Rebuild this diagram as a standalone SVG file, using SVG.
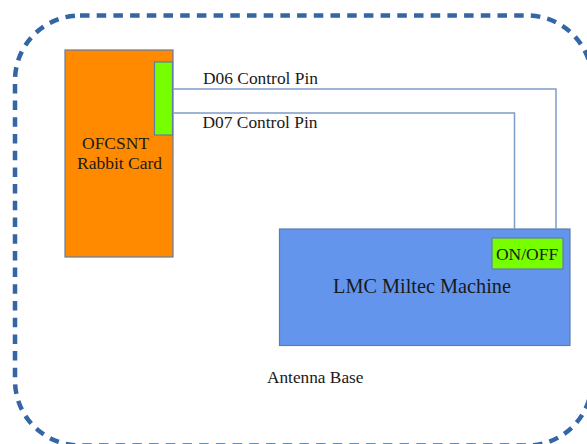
<svg xmlns="http://www.w3.org/2000/svg" width="587" height="444" viewBox="0 0 587 444">
<style>
text{font-family:"Liberation Serif","Times New Roman",serif;fill:#1a1a1a}
.wire{fill:none;stroke:#7f9cc9;stroke-width:1.5}
.box{stroke:#5f7ca8;stroke-width:1.2}
</style>
<rect x="15" y="15.5" width="577" height="430" rx="65" ry="65" fill="none" stroke="#3465a4" stroke-width="4.5" stroke-dasharray="9.5 7.2"/>
<g id="rabbit-card">
<rect class="box" x="65" y="50" width="108" height="207" fill="#ff8a00"/>
<text x="82" y="149" font-size="17.5">OFCSNT</text>
<text x="77" y="169" font-size="17.5">Rabbit Card</text>
</g>
<g id="pins">
<rect class="box" x="154.5" y="62" width="18" height="73" fill="#77ff00"/>
</g>
<g id="lmc">
<rect class="box" x="279.5" y="229" width="290.5" height="116.5" fill="#6495ed"/>
<text x="422" y="292.5" font-size="20.3" text-anchor="middle">LMC Miltec Machine</text>
</g>
<g id="onoff">
<rect class="box" x="492" y="238" width="71" height="31" fill="#77ff00"/>
<text x="527" y="259.5" font-size="17.5" text-anchor="middle">ON/OFF</text>
</g>
<g id="connectors">
<polyline class="wire" points="173,89 556,89 556,229"/>
<polyline class="wire" points="173,113 514.5,113 514.5,229"/>
<text x="203" y="83.5" font-size="17.4">D06 Control Pin</text>
<text x="202.5" y="127.5" font-size="17.4">D07 Control Pin</text>
</g>
<g id="antenna-base">
<text x="267" y="383" font-size="17.3">Antenna Base</text>
</g>
</svg>
